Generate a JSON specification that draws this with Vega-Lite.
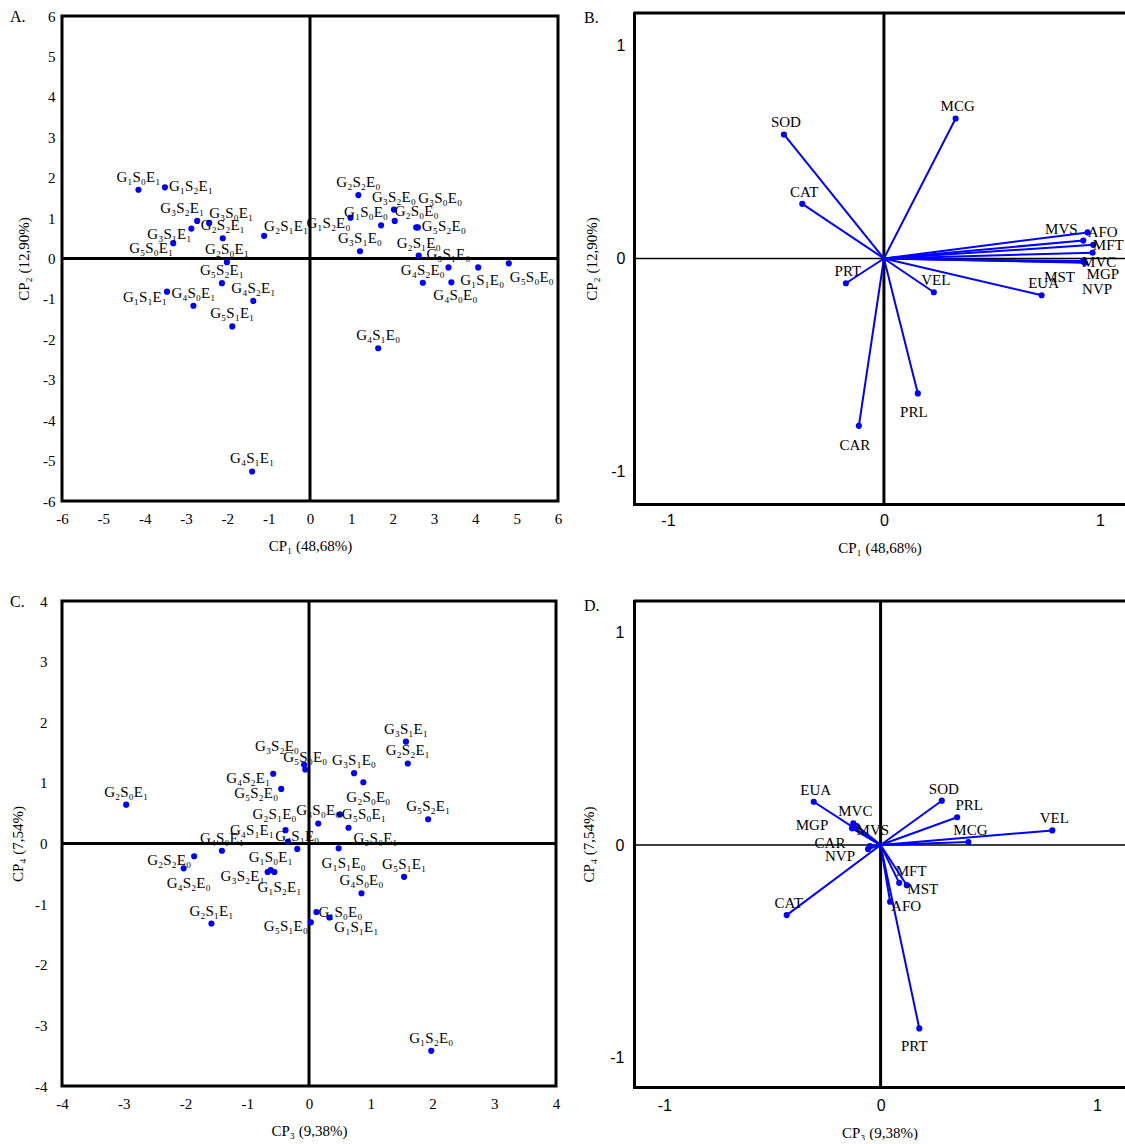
{
  "$schema": "https://vega.github.io/schema/vega-lite/v6.json",
  "padding": {"left": 8, "top": 7, "right": 0, "bottom": 0},
  "autosize": {"type": "pad"},
  "background": "white",
  "config": {
    "view": {"stroke": "black", "strokeWidth": 3},
    "axis": {"grid": false, "ticks": false, "domain": false, "labelFont": "Liberation Serif", "labelFontSize": 15, "labelColor": "black", "titleFont": "Liberation Serif", "titleFontSize": 15, "titleFontWeight": "normal", "titleColor": "black", "labelFlush": false, "labelOverlap": false, "labelExpr": "'' + datum.value"},
    "text": {"font": "Liberation Serif", "fontSize": 15, "color": "black", "align": "center", "baseline": "middle"},
    "circle": {"color": "#0000ff", "size": 38, "opacity": 1},
    "title": {"font": "Liberation Serif", "fontSize": 16, "fontWeight": "normal", "color": "black", "anchor": "start", "frame": "group", "baseline": "top"}
  },
  "datasets": {
    "obs": [
      {"id": "G1S0E0", "t": "G₁S₀E₀", "cp1": 1.72, "cp2": 0.82, "cp3": 0.12, "cp4": -1.13},
      {"id": "G1S0E1", "t": "G₁S₀E₁", "cp1": -4.15, "cp2": 1.70, "cp3": -0.62, "cp4": -0.44},
      {"id": "G1S1E0", "t": "G₁S₁E₀", "cp1": 4.07, "cp2": -0.22, "cp3": 0.48, "cp4": -0.08},
      {"id": "G1S1E1", "t": "G₁S₁E₁", "cp1": -3.46, "cp2": -0.82, "cp3": 0.33, "cp4": -1.22},
      {"id": "G1S2E0", "t": "G₁S₂E₀", "cp1": 0.98, "cp2": 1.01, "cp3": 1.98, "cp4": -3.42},
      {"id": "G1S2E1", "t": "G₁S₂E₁", "cp1": -3.51, "cp2": 1.76, "cp3": -0.56, "cp4": -0.47},
      {"id": "G2S0E0", "t": "G₂S₀E₀", "cp1": 2.05, "cp2": 0.93, "cp3": 0.88, "cp4": 1.01},
      {"id": "G2S0E1", "t": "G₂S₀E₁", "cp1": -2.01, "cp2": -0.09, "cp3": -2.96, "cp4": 0.64},
      {"id": "G2S1E0", "t": "G₂S₁E₀", "cp1": 2.63, "cp2": 0.07, "cp3": -0.38, "cp4": 0.22},
      {"id": "G2S1E1", "t": "G₂S₁E₁", "cp1": -1.11, "cp2": 0.56, "cp3": -1.58, "cp4": -1.32},
      {"id": "G2S2E0", "t": "G₂S₂E₀", "cp1": 1.17, "cp2": 1.57, "cp3": -1.86, "cp4": -0.21},
      {"id": "G2S2E1", "t": "G₂S₂E₁", "cp1": -2.11, "cp2": 0.50, "cp3": 1.60, "cp4": 1.32},
      {"id": "G3S0E0", "t": "G₃S₀E₀", "cp1": 2.57, "cp2": 0.77, "cp3": 0.15, "cp4": 0.33},
      {"id": "G3S0E1", "t": "G₃S₀E₁", "cp1": -2.44, "cp2": 0.88, "cp3": 0.64, "cp4": 0.26},
      {"id": "G3S1E0", "t": "G₃S₁E₀", "cp1": 1.21, "cp2": 0.18, "cp3": 0.73, "cp4": 1.16},
      {"id": "G3S1E1", "t": "G₃S₁E₁", "cp1": -2.87, "cp2": 0.74, "cp3": 1.57, "cp4": 1.68},
      {"id": "G3S2E0", "t": "G₃S₂E₀", "cp1": 2.03, "cp2": 1.21, "cp3": -0.08, "cp4": 1.30},
      {"id": "G3S2E1", "t": "G₃S₂E₁", "cp1": -2.73, "cp2": 0.93, "cp3": -0.67, "cp4": -0.47},
      {"id": "G4S0E0", "t": "G₄S₀E₀", "cp1": 3.42, "cp2": -0.59, "cp3": 0.85, "cp4": -0.82},
      {"id": "G4S0E1", "t": "G₄S₀E₁", "cp1": -2.82, "cp2": -1.17, "cp3": -1.41, "cp4": -0.12},
      {"id": "G4S1E0", "t": "G₄S₁E₀", "cp1": 1.65, "cp2": -2.22, "cp3": -0.19, "cp4": -0.09},
      {"id": "G4S1E1", "t": "G₄S₁E₁", "cp1": -1.40, "cp2": -5.27, "cp3": -0.34, "cp4": 0.03},
      {"id": "G4S2E0", "t": "G₄S₂E₀", "cp1": 2.73, "cp2": -0.60, "cp3": -2.03, "cp4": -0.41},
      {"id": "G4S2E1", "t": "G₄S₂E₁", "cp1": -1.37, "cp2": -1.05, "cp3": -0.58, "cp4": 1.15},
      {"id": "G5S0E0", "t": "G₅S₀E₀", "cp1": 4.81, "cp2": -0.12, "cp3": -0.06, "cp4": 1.22},
      {"id": "G5S0E1", "t": "G₅S₀E₁", "cp1": -3.31, "cp2": 0.38, "cp3": 0.50, "cp4": 0.48},
      {"id": "G5S1E0", "t": "G₅S₁E₀", "cp1": 3.35, "cp2": -0.22, "cp3": 0.03, "cp4": -1.30},
      {"id": "G5S1E1", "t": "G₅S₁E₁", "cp1": -1.88, "cp2": -1.68, "cp3": 1.54, "cp4": -0.55},
      {"id": "G5S2E0", "t": "G₅S₂E₀", "cp1": 2.61, "cp2": 0.77, "cp3": -0.45, "cp4": 0.90},
      {"id": "G5S2E1", "t": "G₅S₂E₁", "cp1": -2.13, "cp2": -0.61, "cp3": 1.93, "cp4": 0.40}
    ],
    "load": [
      {"v": "SOD", "cp1": -0.463, "cp2": 0.581, "cp3": 0.283, "cp4": 0.209},
      {"v": "MCG", "cp1": 0.332, "cp2": 0.656, "cp3": 0.406, "cp4": 0.014},
      {"v": "CAT", "cp1": -0.378, "cp2": 0.256, "cp3": -0.434, "cp4": -0.330},
      {"v": "PRT", "cp1": -0.176, "cp2": -0.116, "cp3": 0.179, "cp4": -0.864},
      {"v": "VEL", "cp1": 0.231, "cp2": -0.158, "cp3": 0.794, "cp4": 0.069},
      {"v": "PRL", "cp1": 0.157, "cp2": -0.632, "cp3": 0.354, "cp4": 0.131},
      {"v": "CAR", "cp1": -0.116, "cp2": -0.784, "cp3": -0.049, "cp4": -0.005},
      {"v": "EUA", "cp1": 0.730, "cp2": -0.172, "cp3": -0.309, "cp4": 0.204},
      {"v": "AFO", "cp1": 0.943, "cp2": 0.122, "cp3": 0.044, "cp4": -0.267},
      {"v": "MVS", "cp1": 0.923, "cp2": 0.084, "cp3": -0.110, "cp4": 0.090},
      {"v": "MFT", "cp1": 0.969, "cp2": 0.064, "cp3": 0.086, "cp4": -0.178},
      {"v": "MST", "cp1": 0.966, "cp2": 0.027, "cp3": 0.121, "cp4": -0.189},
      {"v": "MVC", "cp1": 0.927, "cp2": -0.017, "cp3": -0.126, "cp4": 0.102},
      {"v": "MGP", "cp1": 0.930, "cp2": -0.020, "cp3": -0.132, "cp4": 0.079},
      {"v": "NVP", "cp1": 0.922, "cp2": -0.012, "cp3": -0.058, "cp4": -0.019}
    ]
  },
  "columns": 2,
  "spacing": {"row": 97, "column": 76},
  "bounds": "flush",
  "align": "each",
  "center": {"row": true, "column": false},
  "concat": [
    {
      "width": 496,
      "height": 485,
      "title": {"text": "A.", "dx": -52, "offset": -16},
      "data": {"name": "obs"},
      "layer": [
        {"data": {"values": [{}]}, "mark": {"type": "rule", "color": "black", "strokeWidth": 3}, "encoding": {"x": {"datum": 0, "type": "quantitative"}}},
        {"data": {"values": [{}]}, "mark": {"type": "rule", "color": "black", "strokeWidth": 3}, "encoding": {"y": {"datum": 0, "type": "quantitative"}}},
        {
          "mark": {"type": "circle"},
          "encoding": {
            "x": {"field": "cp1", "type": "quantitative", "scale": {"domain": [-6, 6], "nice": false, "zero": false}, "axis": {"values": [-6, -5, -4, -3, -2, -1, 0, 1, 2, 3, 4, 5, 6], "title": "CP₁ (48,68%)", "labelPadding": 10, "titlePadding": 12}},
            "y": {"field": "cp2", "type": "quantitative", "scale": {"domain": [-6, 6], "nice": false, "zero": false}, "axis": {"values": [-6, -5, -4, -3, -2, -1, 0, 1, 2, 3, 4, 5, 6], "title": "CP₂ (12,90%)", "labelPadding": 7, "titlePadding": 11}}
          }
        },
        {"transform": [{"filter": {"field": "id", "oneOf": ["G1S0E1", "G2S2E1", "G2S0E1", "G5S2E1", "G4S0E1", "G4S2E1", "G5S1E1", "G4S1E1", "G2S2E0", "G3S2E0", "G3S1E0", "G2S1E0", "G5S1E0", "G4S2E0", "G4S1E0"]}}], "mark": {"type": "text", "dx": 0, "dy": -13}, "encoding": {"x": {"field": "cp1", "type": "quantitative"}, "y": {"field": "cp2", "type": "quantitative"}, "text": {"field": "t"}}},
        {"transform": [{"filter": {"field": "id", "oneOf": ["G1S1E0", "G4S0E0"]}}], "mark": {"type": "text", "dx": 4, "dy": 13}, "encoding": {"x": {"field": "cp1", "type": "quantitative"}, "y": {"field": "cp2", "type": "quantitative"}, "text": {"field": "t"}}},
        {"transform": [{"filter": {"field": "id", "oneOf": ["G1S2E1", "G5S2E0"]}}], "mark": {"type": "text", "dx": 26, "dy": -1}, "encoding": {"x": {"field": "cp1", "type": "quantitative"}, "y": {"field": "cp2", "type": "quantitative"}, "text": {"field": "t"}}},
        {"transform": [{"filter": {"field": "id", "oneOf": ["G3S1E1", "G5S0E1", "G1S1E1", "G1S2E0"]}}], "mark": {"type": "text", "dx": -22, "dy": 5}, "encoding": {"x": {"field": "cp1", "type": "quantitative"}, "y": {"field": "cp2", "type": "quantitative"}, "text": {"field": "t"}}},
        {"transform": [{"filter": {"field": "id", "oneOf": ["G3S2E1", "G1S0E0"]}}], "mark": {"type": "text", "dx": -15, "dy": -13}, "encoding": {"x": {"field": "cp1", "type": "quantitative"}, "y": {"field": "cp2", "type": "quantitative"}, "text": {"field": "t"}}},
        {"transform": [{"filter": {"field": "id", "oneOf": ["G3S0E1", "G2S1E1", "G2S0E0"]}}], "mark": {"type": "text", "dx": 22, "dy": -10}, "encoding": {"x": {"field": "cp1", "type": "quantitative"}, "y": {"field": "cp2", "type": "quantitative"}, "text": {"field": "t"}}},
        {"transform": [{"filter": {"field": "id", "oneOf": ["G5S0E0"]}}], "mark": {"type": "text", "dx": 23, "dy": 14}, "encoding": {"x": {"field": "cp1", "type": "quantitative"}, "y": {"field": "cp2", "type": "quantitative"}, "text": {"field": "t"}}},
        {"transform": [{"filter": {"field": "id", "oneOf": ["G3S0E0"]}}], "mark": {"type": "text", "dx": 24, "dy": -29}, "encoding": {"x": {"field": "cp1", "type": "quantitative"}, "y": {"field": "cp2", "type": "quantitative"}, "text": {"field": "t"}}}
      ]
    },
    {
      "width": 491,
      "height": 491,
      "title": {"text": "B.", "dx": -50, "offset": -14},
      "view": {"stroke": null},
      "data": {"name": "load"},
      "layer": [
        {"data": {"values": [{}]}, "mark": {"type": "rule", "color": "black", "strokeWidth": 3}, "encoding": {"x": {"datum": 0, "type": "quantitative"}}},
        {"data": {"values": [{}]}, "mark": {"type": "rule", "color": "black", "strokeWidth": 1.5}, "encoding": {"y": {"datum": 0, "type": "quantitative"}}},
        {"data": {"values": [{}]}, "mark": {"type": "rule", "color": "black", "strokeWidth": 3}, "encoding": {"y": {"datum": 1.15, "type": "quantitative"}}},
        {
          "mark": {"type": "rule", "color": "#0000ff", "strokeWidth": 2},
          "encoding": {
            "x": {"field": "cp1", "type": "quantitative", "scale": {"domain": [-1.157, 1.116], "nice": false, "zero": false}, "axis": {"values": [-1, 0, 1], "title": "CP₁ (48,68%)", "labelFont": "Liberation Sans", "labelFontSize": 16, "labelPadding": 8, "titlePadding": 12, "domain": true, "domainColor": "black", "domainWidth": 3, "domainCap": "square"}},
            "y": {"field": "cp2", "type": "quantitative", "scale": {"domain": [-1.15, 1.15], "nice": false, "zero": false}, "axis": {"values": [-1, 0, 1], "title": "CP₂ (12,90%)", "labelFont": "Liberation Sans", "labelFontSize": 16, "labelPadding": 9, "titlePadding": 11, "domain": true, "domainColor": "black", "domainWidth": 3, "domainCap": "square"}},
            "x2": {"datum": 0},
            "y2": {"datum": 0}
          }
        },
        {"mark": {"type": "circle"}, "encoding": {"x": {"field": "cp1", "type": "quantitative"}, "y": {"field": "cp2", "type": "quantitative"}}},
        {"transform": [{"filter": {"field": "v", "oneOf": ["SOD", "MCG", "CAT", "PRT", "VEL", "EUA"]}}], "mark": {"type": "text", "dx": 2, "dy": -12}, "encoding": {"x": {"field": "cp1", "type": "quantitative"}, "y": {"field": "cp2", "type": "quantitative"}, "text": {"field": "v"}}},
        {"transform": [{"filter": {"field": "v", "oneOf": ["PRL", "CAR"]}}], "mark": {"type": "text", "dx": -4, "dy": 19}, "encoding": {"x": {"field": "cp1", "type": "quantitative"}, "y": {"field": "cp2", "type": "quantitative"}, "text": {"field": "v"}}},
        {"transform": [{"filter": {"field": "v", "oneOf": ["AFO", "MVC", "MFT"]}}], "mark": {"type": "text", "dx": 15, "dy": 0}, "encoding": {"x": {"field": "cp1", "type": "quantitative"}, "y": {"field": "cp2", "type": "quantitative"}, "text": {"field": "v"}}},
        {"transform": [{"filter": {"field": "v", "oneOf": ["MVS"]}}], "mark": {"type": "text", "dx": -22, "dy": -12}, "encoding": {"x": {"field": "cp1", "type": "quantitative"}, "y": {"field": "cp2", "type": "quantitative"}, "text": {"field": "v"}}},
        {"transform": [{"filter": {"field": "v", "oneOf": ["MST"]}}], "mark": {"type": "text", "dx": -33, "dy": 24}, "encoding": {"x": {"field": "cp1", "type": "quantitative"}, "y": {"field": "cp2", "type": "quantitative"}, "text": {"field": "v"}}},
        {"transform": [{"filter": {"field": "v", "oneOf": ["MGP"]}}], "mark": {"type": "text", "dx": 18, "dy": 11}, "encoding": {"x": {"field": "cp1", "type": "quantitative"}, "y": {"field": "cp2", "type": "quantitative"}, "text": {"field": "v"}}},
        {"transform": [{"filter": {"field": "v", "oneOf": ["NVP"]}}], "mark": {"type": "text", "dx": 14, "dy": 28}, "encoding": {"x": {"field": "cp1", "type": "quantitative"}, "y": {"field": "cp2", "type": "quantitative"}, "text": {"field": "v"}}}
      ]
    },
    {
      "width": 494,
      "height": 485,
      "title": {"text": "C.", "dx": -52, "offset": -16},
      "data": {"name": "obs"},
      "layer": [
        {"data": {"values": [{}]}, "mark": {"type": "rule", "color": "black", "strokeWidth": 3}, "encoding": {"x": {"datum": 0, "type": "quantitative"}}},
        {"data": {"values": [{}]}, "mark": {"type": "rule", "color": "black", "strokeWidth": 3}, "encoding": {"y": {"datum": 0, "type": "quantitative"}}},
        {
          "mark": {"type": "circle"},
          "encoding": {
            "x": {"field": "cp3", "type": "quantitative", "scale": {"domain": [-4, 4], "nice": false, "zero": false}, "axis": {"values": [-4, -3, -2, -1, 0, 1, 2, 3, 4], "title": "CP₃ (9,38%)", "labelPadding": 10, "titlePadding": 12}},
            "y": {"field": "cp4", "type": "quantitative", "scale": {"domain": [-4, 4], "nice": false, "zero": false}, "axis": {"values": [-4, -3, -2, -1, 0, 1, 2, 3, 4], "title": "CP₄ (7,54%)", "labelPadding": 15, "titlePadding": 9}}
          }
        },
        {"transform": [{"filter": {"field": "id", "oneOf": ["G2S0E1", "G3S1E1", "G2S2E1", "G3S1E0", "G5S2E1", "G3S0E0", "G4S1E0", "G4S0E1", "G2S1E1", "G4S0E0", "G5S1E1", "G1S2E0", "G5S0E0", "G1S0E1"]}}], "mark": {"type": "text", "dx": 0, "dy": -13}, "encoding": {"x": {"field": "cp3", "type": "quantitative"}, "y": {"field": "cp4", "type": "quantitative"}, "text": {"field": "t"}}},
        {"transform": [{"filter": {"field": "id", "oneOf": ["G2S0E0", "G1S1E0", "G4S2E0", "G1S2E1"]}}], "mark": {"type": "text", "dx": 5, "dy": 15}, "encoding": {"x": {"field": "cp3", "type": "quantitative"}, "y": {"field": "cp4", "type": "quantitative"}, "text": {"field": "t"}}},
        {"transform": [{"filter": {"field": "id", "oneOf": ["G4S2E1", "G5S2E0", "G5S1E0", "G2S2E0", "G3S2E1"]}}], "mark": {"type": "text", "dx": -25, "dy": 4}, "encoding": {"x": {"field": "cp3", "type": "quantitative"}, "y": {"field": "cp4", "type": "quantitative"}, "text": {"field": "t"}}},
        {"transform": [{"filter": {"field": "id", "oneOf": ["G5S0E1", "G1S0E0"]}}], "mark": {"type": "text", "dx": 24, "dy": 0}, "encoding": {"x": {"field": "cp3", "type": "quantitative"}, "y": {"field": "cp4", "type": "quantitative"}, "text": {"field": "t"}}},
        {"transform": [{"filter": {"field": "id", "oneOf": ["G3S2E0"]}}], "mark": {"type": "text", "dx": -27, "dy": -19}, "encoding": {"x": {"field": "cp3", "type": "quantitative"}, "y": {"field": "cp4", "type": "quantitative"}, "text": {"field": "t"}}},
        {"transform": [{"filter": {"field": "id", "oneOf": ["G4S1E1"]}}], "mark": {"type": "text", "dx": -36, "dy": -12}, "encoding": {"x": {"field": "cp3", "type": "quantitative"}, "y": {"field": "cp4", "type": "quantitative"}, "text": {"field": "t"}}},
        {"transform": [{"filter": {"field": "id", "oneOf": ["G2S1E0"]}}], "mark": {"type": "text", "dx": -11, "dy": -16}, "encoding": {"x": {"field": "cp3", "type": "quantitative"}, "y": {"field": "cp4", "type": "quantitative"}, "text": {"field": "t"}}},
        {"transform": [{"filter": {"field": "id", "oneOf": ["G1S1E1", "G3S0E1"]}}], "mark": {"type": "text", "dx": 27, "dy": 10}, "encoding": {"x": {"field": "cp3", "type": "quantitative"}, "y": {"field": "cp4", "type": "quantitative"}, "text": {"field": "t"}}}
      ]
    },
    {
      "width": 491,
      "height": 486,
      "title": {"text": "D.", "dx": -50, "offset": -14},
      "view": {"stroke": null},
      "data": {"name": "load"},
      "layer": [
        {"data": {"values": [{}]}, "mark": {"type": "rule", "color": "black", "strokeWidth": 3}, "encoding": {"x": {"datum": 0, "type": "quantitative"}}},
        {"data": {"values": [{}]}, "mark": {"type": "rule", "color": "black", "strokeWidth": 1.5}, "encoding": {"y": {"datum": 0, "type": "quantitative"}}},
        {"data": {"values": [{}]}, "mark": {"type": "rule", "color": "black", "strokeWidth": 3}, "encoding": {"y": {"datum": 1.15, "type": "quantitative"}}},
        {
          "mark": {"type": "rule", "color": "#0000ff", "strokeWidth": 2},
          "encoding": {
            "x": {"field": "cp3", "type": "quantitative", "scale": {"domain": [-1.14, 1.13], "nice": false, "zero": false}, "axis": {"values": [-1, 0, 1], "title": "CP₃ (9,38%)", "labelFont": "Liberation Sans", "labelFontSize": 16, "labelPadding": 10, "titlePadding": 12, "domain": true, "domainColor": "black", "domainWidth": 3, "domainCap": "square"}},
            "y": {"field": "cp4", "type": "quantitative", "scale": {"domain": [-1.14, 1.15], "nice": false, "zero": false}, "axis": {"values": [-1, 0, 1], "title": "CP₄ (7,54%)", "labelFont": "Liberation Sans", "labelFontSize": 16, "labelPadding": 10, "titlePadding": 13, "domain": true, "domainColor": "black", "domainWidth": 3, "domainCap": "square"}},
            "x2": {"datum": 0},
            "y2": {"datum": 0}
          }
        },
        {"mark": {"type": "circle"}, "encoding": {"x": {"field": "cp3", "type": "quantitative"}, "y": {"field": "cp4", "type": "quantitative"}}},
        {"transform": [{"filter": {"field": "v", "oneOf": ["EUA", "SOD", "VEL", "MCG", "MVC", "CAT"]}}], "mark": {"type": "text", "dx": 2, "dy": -12}, "encoding": {"x": {"field": "cp3", "type": "quantitative"}, "y": {"field": "cp4", "type": "quantitative"}, "text": {"field": "v"}}},
        {"transform": [{"filter": {"field": "v", "oneOf": ["PRL", "MFT"]}}], "mark": {"type": "text", "dx": 12, "dy": -12}, "encoding": {"x": {"field": "cp3", "type": "quantitative"}, "y": {"field": "cp4", "type": "quantitative"}, "text": {"field": "v"}}},
        {"transform": [{"filter": {"field": "v", "oneOf": ["MVS", "MST", "AFO"]}}], "mark": {"type": "text", "dx": 16, "dy": 4}, "encoding": {"x": {"field": "cp3", "type": "quantitative"}, "y": {"field": "cp4", "type": "quantitative"}, "text": {"field": "v"}}},
        {"transform": [{"filter": {"field": "v", "oneOf": ["MGP", "CAR"]}}], "mark": {"type": "text", "dx": -40, "dy": -3}, "encoding": {"x": {"field": "cp3", "type": "quantitative"}, "y": {"field": "cp4", "type": "quantitative"}, "text": {"field": "v"}}},
        {"transform": [{"filter": {"field": "v", "oneOf": ["NVP"]}}], "mark": {"type": "text", "dx": -28, "dy": 7}, "encoding": {"x": {"field": "cp3", "type": "quantitative"}, "y": {"field": "cp4", "type": "quantitative"}, "text": {"field": "v"}}},
        {"transform": [{"filter": {"field": "v", "oneOf": ["PRT"]}}], "mark": {"type": "text", "dx": -5, "dy": 18}, "encoding": {"x": {"field": "cp3", "type": "quantitative"}, "y": {"field": "cp4", "type": "quantitative"}, "text": {"field": "v"}}}
      ]
    }
  ]
}
